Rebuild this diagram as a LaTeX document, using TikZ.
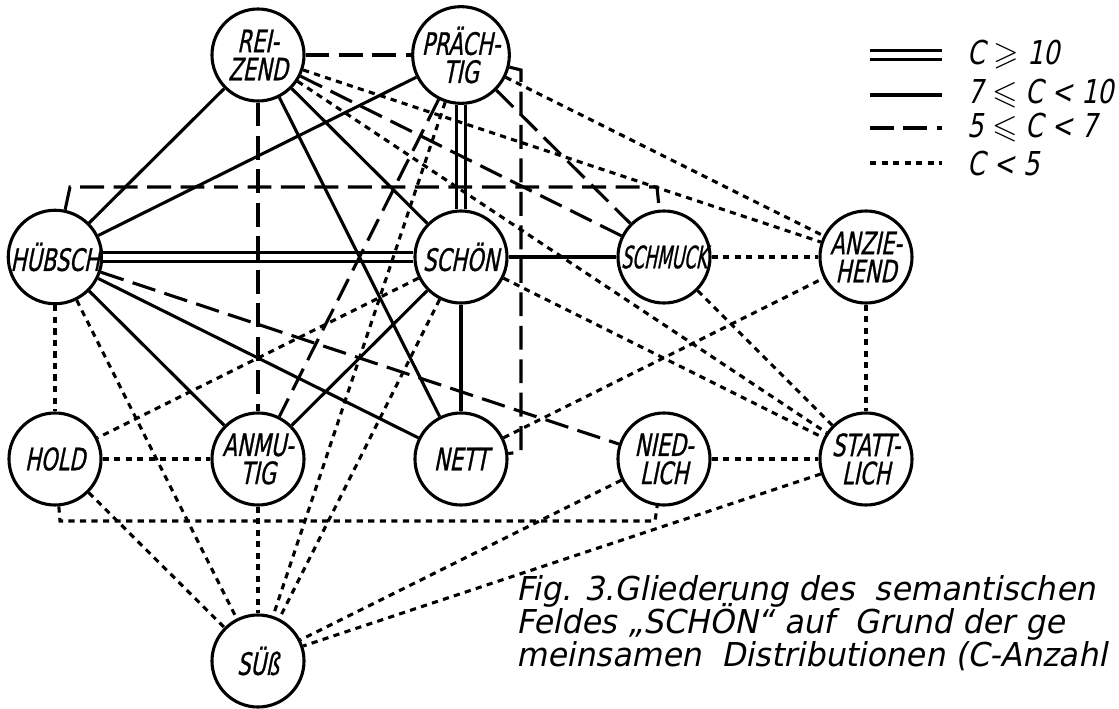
\documentclass[tikz,border=0pt]{standalone}
\usepackage{fontspec}
\usepackage{amssymb}
\setmainfont{DejaVu Sans}[FakeSlant=0.2,FakeStretch=0.96]
\newfontfamily\narrowfont{DejaVu Sans}[FakeSlant=0.2,FakeStretch=0.68,FakeBold=0.8]
\newfontfamily\tightfont{DejaVu Sans}[FakeSlant=0.2,FakeStretch=0.55,FakeBold=0.8]
\newfontfamily\keyfont{DejaVu Sans}[FakeSlant=0.2,FakeStretch=0.78]
\tikzset{
	word/.style={circle,draw,line width=1.1pt,minimum size=1.15cm,inner sep=0pt,align=center,
		font=\narrowfont\fontsize{11}{10}\selectfont},
	key/.style={inner sep=0pt,anchor=west,font=\keyfont\fontsize{11.7}{14}\selectfont},
	caption/.style={inner sep=0pt,anchor=base west,font=\fontsize{11.7}{14}\selectfont},
	link/.style={line width=1.1pt},
	strong/.style={double,line width=1.1pt,double distance=2.4pt},
	dashlink/.style={line width=1.1pt,dash pattern=on 8.5pt off 3.4pt},
	dotlink/.style={line width=1.1pt,dash pattern=on 2.2pt off 1.9pt},
}
\begin{document}
\begin{tikzpicture}[x=0.0125cm,y=-0.0125cm]
	\useasboundingbox (0,0) rectangle (1119,709);
	\clip (0,0) rectangle (1119,709);
	\node [word] (rei) at (258,55) {REI-\\ZEND};
	\node [word] (pra) at (461,55) {PRÄCH-\\TIG};
	\node [word] (hub) at (55,257) {HÜBSCH};
	\node [word] (sch) at (461,257) {SCHÖN};
	\node [word,font=\tightfont\fontsize{11}{10}\selectfont] (smu) at (664,257) {SCHMUCK};
	\node [word] (anz) at (866,257) {ANZIE-\\HEND};
	\node [word] (hol) at (55,459) {HOLD};
	\node [word] (anm) at (258,459) {ANMU-\\TIG};
	\node [word] (net) at (461,459) {NETT};
	\node [word] (nie) at (664,459) {NIED-\\LICH};
	\node [word] (sta) at (866,459) {STATT-\\LICH};
	\node [word] (sus) at (258,661) {SÜß};
	% bends of the three elbow lines
	\coordinate (hb1) at (70,187);
	\coordinate (hb2) at (657,187);
	\coordinate (pb1) at (521,70);
	\coordinate (pb2) at (521,452);
	\coordinate (lb1) at (60,521);
	\coordinate (lb2) at (655,521);
	% C >= 10
	\draw [strong] (hub) -- (sch);
	\draw [strong] (pra) -- (sch);
	% 7 <= C < 10
	\draw [link] (rei) -- (hub);
	\draw [link] (rei) -- (sch);
	\draw [link] (rei) -- (net);
	\draw [link] (pra) -- (hub);
	\draw [link] (hub) -- (anm);
	\draw [link] (hub) -- (net);
	\draw [link] (sch) -- (net);
	\draw [link] (sch) -- (anm);
	\draw [link] (sch) -- (smu);
	% 5 <= C < 7
	\draw [dashlink] (rei) -- (pra);
	\draw [dashlink] (rei) -- (anm);
	\draw [dashlink] (rei) -- (smu);
	\draw [dashlink] (pra) -- (anm);
	\draw [dashlink] (pra) -- (smu);
	\draw [dashlink] (hub) -- (nie);
	\draw [dashlink] (hub) -- (hb1) -- (hb2) -- (smu);
	\draw [dashlink] (pra) -- (pb1) -- (pb2) -- (net);
	% C < 5
	\draw [dotlink] (rei) -- (anz);
	\draw [dotlink] (rei) -- (sta);
	\draw [dotlink] (pra) -- (anz);
	\draw [dotlink] (pra) -- (sus);
	\draw [dotlink] (sch) -- (sus);
	\draw [dotlink] (sch) -- (hol);
	\draw [dotlink] (sch) -- (sta);
	\draw [dotlink] (hub) -- (hol);
	\draw [dotlink] (hub) -- (sus);
	\draw [dotlink] (hol) -- (anm);
	\draw [dotlink] (hol) -- (sus);
	\draw [dotlink] (anm) -- (sus);
	\draw [dotlink] (hol) -- (lb1) -- (lb2) -- (nie);
	\draw [dotlink] (smu) -- (anz);
	\draw [dotlink] (smu) -- (sta);
	\draw [dotlink] (net) -- (anz);
	\draw [dotlink] (anz) -- (sta);
	\draw [dotlink] (nie) -- (sta);
	\draw [dotlink] (nie) -- (sus);
	\draw [dotlink] (sta) -- (sus);
	% key
	\coordinate (ka1) at (870,55);  \coordinate (kb1) at (942,55);
	\coordinate (ka2) at (870,95);  \coordinate (kb2) at (942,95);
	\coordinate (ka3) at (870,128); \coordinate (kb3) at (942,128);
	\coordinate (ka4) at (870,163); \coordinate (kb4) at (942,163);
	\draw [strong] (ka1) -- (kb1);
	\draw [link] (ka2) -- (kb2);
	\draw [dashlink] (ka3) -- (kb3);
	\draw [dotlink] (ka4) -- (kb4);
	\node [key] (k1) at (967,55) {C $\geqslant$ 10};
	\node [key] (k2) at (967,94) {7 $\leqslant$ C < 10};
	\node [key] (k3) at (967,128) {5 $\leqslant$ C < 7};
	\node [key] (k4) at (967,164) {C < 5};
	% caption
	\node [caption] (c1) at (516,600) {Fig. 3.Gliederung des\ \ semantischen};
	\node [caption] (c2) at (516,633) {Feldes „SCHÖN“ auf\ \ Grund der ge};
	\node [caption] (c3) at (516,666) {meinsamen\ \ Distributionen (C-Anzahl};
\end{tikzpicture}
\end{document}
